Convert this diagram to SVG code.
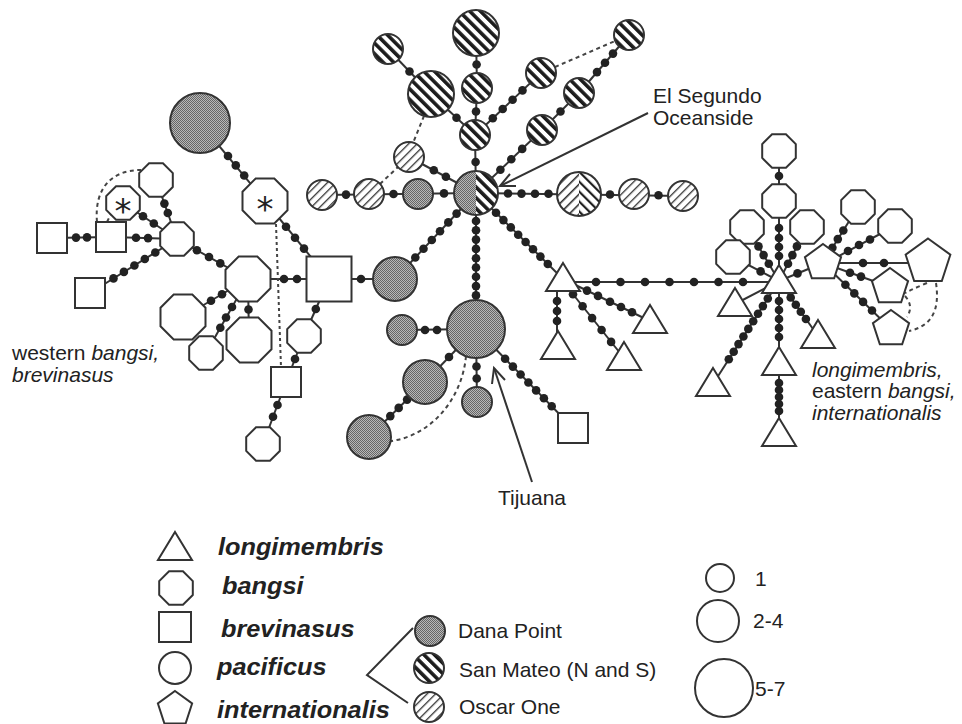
<svg xmlns="http://www.w3.org/2000/svg" width="962" height="724" viewBox="0 0 962 724">
<style>
.n{fill:#fff;stroke:#333;stroke-width:2}
.dn{fill:url(#pDana);stroke:#333;stroke-width:2}
.sm{fill:url(#pSM);stroke:#333;stroke-width:2}
.os{fill:url(#pOsc);stroke:#333;stroke-width:2}
.ol{fill:none;stroke:#333;stroke-width:2}
.e{stroke:#333;stroke-width:2;fill:none}
.ds{stroke:#444;stroke-width:2;fill:none;stroke-dasharray:4 3.5}
.d{fill:#222}
.t{font-family:"Liberation Sans",Arial,Helvetica,sans-serif;font-size:21px;fill:#222}
.ti{font-style:italic}
.tb{font-family:"Liberation Sans",Arial,Helvetica,sans-serif;font-size:23px;font-weight:bold;font-style:italic;fill:#222}
.ast{font-family:"DejaVu Sans",sans-serif;font-size:34px;text-anchor:middle;fill:#222}
</style>
<defs>
<pattern id="pDana" width="2" height="2" patternUnits="userSpaceOnUse"><rect width="2" height="2" fill="#b8b8b8"/><rect width="1" height="1" fill="#666"/><rect x="1" y="1" width="1" height="1" fill="#666"/></pattern>
<pattern id="pSM" width="7.5" height="7.5" patternUnits="userSpaceOnUse" patternTransform="rotate(-45)"><rect width="7.5" height="7.5" fill="#fff"/><rect width="3.6" height="7.5" fill="#1c1c1c"/></pattern>
<pattern id="pOsc" width="6" height="6" patternUnits="userSpaceOnUse" patternTransform="rotate(45)"><rect width="6" height="6" fill="#fff"/><rect width="1.3" height="6" fill="#333"/></pattern>
<pattern id="pChL" width="7" height="7" patternUnits="userSpaceOnUse" patternTransform="rotate(45)"><rect width="7" height="7" fill="#fff"/><rect width="1.6" height="7" fill="#333"/></pattern>
<pattern id="pChR" width="7" height="7" patternUnits="userSpaceOnUse" patternTransform="rotate(-45)"><rect width="7" height="7" fill="#fff"/><rect width="2.2" height="7" fill="#222"/></pattern>
<clipPath id="hubL"><rect x="450" y="165" width="26" height="56"/></clipPath>
<clipPath id="hubR"><rect x="476" y="165" width="28" height="56"/></clipPath>
<clipPath id="chL"><rect x="553" y="168" width="26" height="52"/></clipPath>
<clipPath id="chR"><rect x="579" y="168" width="26" height="52"/></clipPath>
<polygon id="oct17" points="16.8,6.96 6.96,16.8 -6.96,16.8 -16.8,6.96 -16.8,-6.96 -6.96,-16.8 6.96,-16.8 16.8,-6.96"/>
<polygon id="oct22" points="22.5,9.32 9.32,22.5 -9.32,22.5 -22.5,9.32 -22.5,-9.32 -9.32,-22.5 9.32,-22.5 22.5,-9.32"/>
<polygon id="pent18" points="0,-18 17.12,-5.56 10.58,14.56 -10.58,14.56 -17.12,-5.56"/>
<polygon id="pent19" points="0,-19 18.07,-5.87 11.17,15.37 -11.17,15.37 -18.07,-5.87"/>
<polygon id="pent24" points="0,-23.5 22.35,-7.26 13.81,19.01 -13.81,19.01 -22.35,-7.26"/>
<polygon id="tri" points="0,-16 17,12 -17,12"/>
</defs>
<rect width="962" height="724" fill="#fff"/>

<g id="connectors">
<g class="e">
<line x1="52" y1="238" x2="111" y2="237"/>
<line x1="111" y1="237" x2="177" y2="239"/>
<line x1="90" y1="293" x2="177" y2="239"/>
<line x1="123" y1="203" x2="177" y2="239"/>
<line x1="156" y1="180" x2="177" y2="239"/>
<line x1="177" y1="239" x2="248" y2="279"/>
<line x1="248" y1="279" x2="183" y2="317"/>
<line x1="248" y1="279" x2="206" y2="353"/>
<line x1="248" y1="279" x2="249" y2="340"/>
<line x1="248" y1="279" x2="329" y2="279"/>
<line x1="200" y1="123" x2="265" y2="201"/>
<line x1="265" y1="201" x2="329" y2="279"/>
<line x1="329" y1="279" x2="395" y2="279"/>
<line x1="329" y1="279" x2="304" y2="336"/>
<line x1="304" y1="336" x2="286" y2="382"/>
<line x1="286" y1="382" x2="263" y2="444"/>
<line x1="476" y1="193" x2="395" y2="279"/>
<line x1="476" y1="193" x2="563" y2="279"/>
<line x1="476" y1="193" x2="476" y2="329"/>
<line x1="476" y1="329" x2="402" y2="330"/>
<line x1="476" y1="329" x2="425" y2="382"/>
<line x1="425" y1="382" x2="369" y2="437"/>
<line x1="476" y1="329" x2="477" y2="402"/>
<line x1="476" y1="329" x2="573" y2="428"/>
<line x1="476" y1="193" x2="475" y2="135"/>
<line x1="475" y1="135" x2="477" y2="88"/>
<line x1="477" y1="88" x2="476" y2="33"/>
<line x1="475" y1="135" x2="431" y2="94"/>
<line x1="431" y1="94" x2="388" y2="49"/>
<line x1="409" y1="157" x2="476" y2="193"/>
<line x1="322" y1="195" x2="476" y2="193"/>
<line x1="476" y1="193" x2="683" y2="196"/>
<line x1="475" y1="135" x2="541" y2="73"/>
<line x1="476" y1="193" x2="542" y2="130"/>
<line x1="542" y1="130" x2="579" y2="93"/>
<line x1="579" y1="93" x2="629" y2="35"/>
<line x1="563" y1="282" x2="779" y2="282"/>
<line x1="557" y1="291" x2="557" y2="335"/>
<line x1="563" y1="279" x2="650" y2="321"/>
<line x1="568" y1="288" x2="624" y2="358"/>
<line x1="779" y1="281" x2="735" y2="304"/>
<line x1="779" y1="281" x2="713" y2="384"/>
<line x1="779" y1="281" x2="818" y2="336"/>
<line x1="779" y1="281" x2="779" y2="434"/>
<line x1="779" y1="281" x2="779" y2="151"/>
<line x1="747" y1="227" x2="779" y2="281"/>
<line x1="807" y1="227" x2="779" y2="281"/>
<line x1="733" y1="257" x2="779" y2="281"/>
<line x1="779" y1="281" x2="823" y2="263"/>
<line x1="826" y1="258" x2="858" y2="207"/>
<line x1="837" y1="257" x2="895" y2="226"/>
<line x1="823" y1="263" x2="928" y2="263"/>
<line x1="823" y1="263" x2="890" y2="287"/>
<line x1="823" y1="263" x2="891" y2="329"/>
</g>
<g class="ds">
<path d="M276,224 L281,367" stroke-dasharray="3 3"/>
<path d="M97,222 C94,188 112,170 141,170"/>
<path d="M107,222 L111,214"/>
<path d="M424,116 L413,143"/>
<path d="M380,184 L398,167"/>
<path d="M555,67 L615,41"/>
<path d="M466,356 C462,400 430,436 391,441"/>
<path d="M927,283 Q915,288 905,293"/>
<path d="M936,283 C940,310 932,326 909,331"/>
<path d="M905,296 Q914,306 907,317"/>
</g>
<g class="d">
<circle cx="76" cy="237.6" r="4.3"/><circle cx="87" cy="237.4" r="4.3"/>
<circle cx="136" cy="237.8" r="4.3"/><circle cx="148" cy="238.1" r="4.3"/>
<circle cx="113.5" cy="278.4" r="4.3"/><circle cx="123.9" cy="271.9" r="4.3"/><circle cx="134.4" cy="265.5" r="4.3"/><circle cx="144.8" cy="259" r="4.3"/><circle cx="155.3" cy="252.5" r="4.3"/>
<circle cx="143" cy="216.3" r="4.3"/><circle cx="153.8" cy="223.5" r="4.3"/>
<circle cx="164.4" cy="203.6" r="4.3"/><circle cx="167.8" cy="213" r="4.3"/>
<circle cx="196.9" cy="250.2" r="4.3"/><circle cx="209" cy="257" r="4.3"/><circle cx="220.3" cy="263.4" r="4.3"/>
<circle cx="222" cy="294.2" r="4.3"/><circle cx="211" cy="300.7" r="4.3"/>
<circle cx="232" cy="307" r="4.3"/><circle cx="226" cy="317.5" r="4.3"/><circle cx="220.3" cy="327.8" r="4.3"/>
<circle cx="248.5" cy="309.5" r="4.3"/>
<circle cx="284" cy="279" r="4.3"/><circle cx="297" cy="279" r="4.3"/>
<circle cx="228" cy="156" r="4.3"/><circle cx="235.8" cy="165.4" r="4.3"/><circle cx="244.2" cy="175.5" r="4.3"/>
<circle cx="286" cy="226.7" r="4.3"/><circle cx="295" cy="237.7" r="4.3"/><circle cx="304" cy="248.6" r="4.3"/>
<circle cx="361" cy="279" r="4.3"/>
<circle cx="315.8" cy="309" r="4.3"/>
<circle cx="295" cy="359" r="4.3"/>
<circle cx="277.5" cy="405" r="4.3"/><circle cx="273" cy="416.7" r="4.3"/>
<circle cx="456.6" cy="213.6" r="4.3"/><circle cx="448.3" cy="222.4" r="4.3"/><circle cx="440" cy="231.2" r="4.3"/><circle cx="431.8" cy="240" r="4.3"/><circle cx="423.5" cy="248.7" r="4.3"/><circle cx="415.3" cy="257.5" r="4.3"/>
<circle cx="496" cy="212.8" r="4.3"/><circle cx="503.4" cy="220.1" r="4.3"/><circle cx="510.8" cy="227.4" r="4.3"/><circle cx="518.2" cy="234.7" r="4.3"/><circle cx="525.6" cy="242" r="4.3"/><circle cx="533" cy="249.3" r="4.3"/><circle cx="540.4" cy="256.6" r="4.3"/><circle cx="547.8" cy="264" r="4.3"/>
<circle cx="476" cy="221" r="4.3"/><circle cx="476" cy="230.3" r="4.3"/><circle cx="476" cy="239.6" r="4.3"/><circle cx="476" cy="248.9" r="4.3"/><circle cx="476" cy="258.2" r="4.3"/><circle cx="476" cy="267.5" r="4.3"/><circle cx="476" cy="276.8" r="4.3"/><circle cx="476" cy="286.1" r="4.3"/><circle cx="476" cy="295.4" r="4.3"/>
<circle cx="425" cy="330" r="4.3"/><circle cx="437" cy="330" r="4.3"/>
<circle cx="449" cy="357" r="4.3"/>
<circle cx="407.1" cy="399.6" r="4.3"/><circle cx="398.7" cy="407.9" r="4.3"/><circle cx="390.3" cy="416.1" r="4.3"/>
<circle cx="476.5" cy="366.5" r="4.3"/><circle cx="476.7" cy="378.5" r="4.3"/>
<circle cx="505.1" cy="358.7" r="4.3"/><circle cx="512.9" cy="366.6" r="4.3"/><circle cx="520.6" cy="374.5" r="4.3"/><circle cx="528.4" cy="382.5" r="4.3"/><circle cx="536.1" cy="390.4" r="4.3"/><circle cx="543.9" cy="398.3" r="4.3"/><circle cx="551.7" cy="406.2" r="4.3"/>
<circle cx="475.6" cy="162" r="4.3"/>
<circle cx="476" cy="111.5" r="4.3"/>
<circle cx="476.6" cy="64.5" r="4.3"/>
<circle cx="456.5" cy="117.8" r="4.3"/>
<circle cx="409.5" cy="71.5" r="4.3"/>
<circle cx="433.8" cy="170.3" r="4.3"/><circle cx="445.9" cy="176.8" r="4.3"/>
<circle cx="346" cy="194.6" r="4.3"/><circle cx="393.5" cy="194" r="4.3"/><circle cx="444" cy="193.4" r="4.3"/>
<circle cx="508" cy="193.5" r="4.3"/><circle cx="521.5" cy="193.6" r="4.3"/><circle cx="535" cy="193.7" r="4.3"/><circle cx="548.5" cy="193.8" r="4.3"/><circle cx="610" cy="194.5" r="4.3"/><circle cx="658.5" cy="195.3" r="4.3"/>
<circle cx="492.8" cy="118.3" r="4.3"/><circle cx="502.7" cy="109" r="4.3"/><circle cx="512.6" cy="99.7" r="4.3"/><circle cx="522.5" cy="90.4" r="4.3"/>
<circle cx="500.4" cy="169.7" r="4.3"/><circle cx="511.3" cy="159.3" r="4.3"/><circle cx="522.2" cy="148.9" r="4.3"/>
<circle cx="560.5" cy="111.5" r="4.3"/>
<circle cx="597" cy="72.1" r="4.3"/><circle cx="605" cy="62.8" r="4.3"/><circle cx="613" cy="53.6" r="4.3"/>
<circle cx="596" cy="282" r="4.3"/><circle cx="620.5" cy="282" r="4.3"/><circle cx="645" cy="282" r="4.3"/><circle cx="669.5" cy="282" r="4.3"/><circle cx="694" cy="282" r="4.3"/><circle cx="718.5" cy="282" r="4.3"/><circle cx="743" cy="282" r="4.3"/>
<circle cx="557" cy="301" r="4.3"/><circle cx="557" cy="311" r="4.3"/><circle cx="557" cy="321" r="4.3"/>
<circle cx="587" cy="290.6" r="4.3"/><circle cx="598" cy="295.9" r="4.3"/><circle cx="610" cy="301.7" r="4.3"/><circle cx="621" cy="307" r="4.3"/><circle cx="632" cy="312.3" r="4.3"/>
<circle cx="573" cy="294.3" r="4.3"/><circle cx="582.6" cy="306.2" r="4.3"/><circle cx="592.1" cy="318.1" r="4.3"/><circle cx="601.6" cy="330" r="4.3"/><circle cx="611.1" cy="341.9" r="4.3"/>
<circle cx="767.8" cy="298.5" r="4.3"/><circle cx="762.9" cy="306.1" r="4.3"/><circle cx="758" cy="313.8" r="4.3"/><circle cx="753.2" cy="321.3" r="4.3"/><circle cx="748.3" cy="328.9" r="4.3"/><circle cx="743.4" cy="336.5" r="4.3"/><circle cx="738.5" cy="344.1" r="4.3"/><circle cx="733.7" cy="351.7" r="4.3"/><circle cx="728.8" cy="359.3" r="4.3"/>
<circle cx="790.7" cy="297.5" r="4.3"/><circle cx="795.8" cy="304.7" r="4.3"/><circle cx="800.8" cy="311.8" r="4.3"/><circle cx="805.9" cy="319" r="4.3"/>
<circle cx="779" cy="301" r="4.3"/><circle cx="779" cy="310" r="4.3"/><circle cx="779" cy="319" r="4.3"/><circle cx="779" cy="328" r="4.3"/><circle cx="779" cy="337" r="4.3"/>
<circle cx="779" cy="383" r="4.3"/><circle cx="779" cy="390" r="4.3"/><circle cx="779" cy="397" r="4.3"/><circle cx="779" cy="404" r="4.3"/><circle cx="779" cy="411" r="4.3"/>
<circle cx="779" cy="228" r="4.3"/><circle cx="779" cy="238" r="4.3"/><circle cx="779" cy="247" r="4.3"/><circle cx="779" cy="256" r="4.3"/><circle cx="779" cy="176" r="4.3"/>
<circle cx="758.5" cy="246.4" r="4.3"/><circle cx="763.6" cy="255.1" r="4.3"/><circle cx="768.8" cy="263.7" r="4.3"/>
<circle cx="796.9" cy="246.4" r="4.3"/><circle cx="792.4" cy="255.1" r="4.3"/><circle cx="788" cy="263.7" r="4.3"/>
<circle cx="760.6" cy="271.4" r="4.3"/>
<circle cx="797.5" cy="273.4" r="4.3"/>
<circle cx="832.4" cy="247.8" r="4.3"/><circle cx="837.8" cy="239.1" r="4.3"/><circle cx="843.3" cy="230.5" r="4.3"/>
<circle cx="848" cy="251" r="4.3"/><circle cx="859" cy="245" r="4.3"/><circle cx="870" cy="239.5" r="4.3"/>
<circle cx="863" cy="263" r="4.3"/><circle cx="884" cy="263" r="4.3"/>
<circle cx="850" cy="272.7" r="4.3"/><circle cx="861" cy="276.6" r="4.3"/>
<circle cx="845.4" cy="284.8" r="4.3"/><circle cx="854.3" cy="293.4" r="4.3"/><circle cx="863.1" cy="301.9" r="4.3"/><circle cx="872" cy="310.5" r="4.3"/>
</g>
</g>

<g id="nodes">
<g id="n-sq1"><rect class="n" x="37" y="223" width="30" height="30"/></g>
<g id="n-sq2"><rect class="n" x="96" y="222" width="30" height="30"/></g>
<g id="n-sq3"><rect class="n" x="75" y="278" width="30" height="30"/></g>
<g id="n-oct-star-s"><use href="#oct17" class="n" x="123" y="203"/><text class="ast" x="123" y="223">*</text></g>
<g id="n-oct-a"><use href="#oct17" class="n" x="156" y="180"/></g>
<g id="n-oct-hubL"><use href="#oct17" class="n" x="177" y="239"/></g>
<g id="n-dana-tl"><circle class="dn" cx="200" cy="123" r="30"/></g>
<g id="n-oct-star-b"><use href="#oct22" class="n" x="265" y="201"/><text class="ast" x="265" y="221">*</text></g>
<g id="n-oct-big"><use href="#oct22" class="n" x="248" y="279"/></g>
<g id="n-oct-b"><use href="#oct22" class="n" x="183" y="317"/></g>
<g id="n-oct-c"><use href="#oct17" class="n" x="206" y="353"/></g>
<g id="n-oct-d"><use href="#oct22" class="n" x="249" y="340"/></g>
<g id="n-sq-big"><rect class="n" x="306.5" y="256.5" width="45" height="45"/></g>
<g id="n-oct-e"><use href="#oct17" class="n" x="304" y="336"/></g>
<g id="n-sq-s"><rect class="n" x="271" y="367" width="30" height="30"/></g>
<g id="n-oct-f"><use href="#oct17" class="n" x="263" y="444"/></g>

<g id="n-hub"><circle cx="476" cy="193" r="22" fill="url(#pDana)" clip-path="url(#hubL)"/><circle cx="476" cy="193" r="22" fill="url(#pSM)" clip-path="url(#hubR)"/><circle class="ol" cx="476" cy="193" r="22"/></g>
<g id="n-sm-33"><circle class="sm" cx="476" cy="33" r="23"/></g>
<g id="n-sm-88"><circle class="sm" cx="477" cy="88" r="15"/></g>
<g id="n-sm-135"><circle class="sm" cx="475" cy="135" r="15"/></g>
<g id="n-sm-49"><circle class="sm" cx="388" cy="49" r="15"/></g>
<g id="n-sm-94"><circle class="sm" cx="431" cy="94" r="23"/></g>
<g id="n-os-157"><circle class="os" cx="409" cy="157" r="15"/></g>
<g id="n-os-322"><circle class="os" cx="322" cy="195" r="15"/></g>
<g id="n-os-369"><circle class="os" cx="369" cy="194" r="15"/></g>
<g id="n-dana-418"><circle class="dn" cx="418" cy="194" r="15"/></g>
<g id="n-chev"><circle cx="579" cy="194" r="22" fill="url(#pChL)" clip-path="url(#chL)"/><circle cx="579" cy="194" r="22" fill="url(#pChR)" clip-path="url(#chR)"/><circle class="ol" cx="579" cy="194" r="22"/></g>
<g id="n-os-634"><circle class="os" cx="634" cy="194" r="15"/></g>
<g id="n-os-683"><circle class="os" cx="683" cy="196" r="15"/></g>
<g id="n-sm-541"><circle class="sm" cx="541" cy="73" r="15"/></g>
<g id="n-sm-542"><circle class="sm" cx="542" cy="130" r="15"/></g>
<g id="n-sm-579"><circle class="sm" cx="579" cy="93" r="15"/></g>
<g id="n-sm-629"><circle class="sm" cx="629" cy="35" r="15"/></g>
<g id="n-dana-395"><circle class="dn" cx="395" cy="279" r="22"/></g>
<g id="n-dana-tij"><circle class="dn" cx="476" cy="329" r="29"/></g>
<g id="n-dana-402"><circle class="dn" cx="402" cy="330" r="15"/></g>
<g id="n-dana-425"><circle class="dn" cx="425" cy="382" r="22"/></g>
<g id="n-dana-369"><circle class="dn" cx="369" cy="437" r="22"/></g>
<g id="n-dana-477"><circle class="dn" cx="477" cy="402" r="15"/></g>
<g id="n-sq-lr"><rect class="n" x="558" y="413" width="30" height="30"/></g>

<g id="n-tri-1"><use href="#tri" class="n" x="563" y="279"/></g>
<g id="n-tri-a"><use href="#tri" class="n" x="558" y="347"/></g>
<g id="n-tri-b"><use href="#tri" class="n" x="650" y="321"/></g>
<g id="n-tri-c"><use href="#tri" class="n" x="624" y="358"/></g>
<g id="n-tri-hub"><use href="#tri" class="n" x="779" y="281"/></g>
<g id="n-tri-d"><use href="#tri" class="n" x="735" y="304"/></g>
<g id="n-tri-e"><use href="#tri" class="n" x="713" y="384"/></g>
<g id="n-tri-f"><use href="#tri" class="n" x="818" y="336"/></g>
<g id="n-tri-g"><use href="#tri" class="n" x="779" y="363"/></g>
<g id="n-tri-h"><use href="#tri" class="n" x="779" y="434"/></g>
<g id="n-oct-r1"><use href="#oct17" class="n" x="779" y="151"/></g>
<g id="n-oct-r2"><use href="#oct17" class="n" x="779" y="201"/></g>
<g id="n-oct-r3"><use href="#oct17" class="n" x="747" y="227"/></g>
<g id="n-oct-r4"><use href="#oct17" class="n" x="807" y="227"/></g>
<g id="n-oct-r5"><use href="#oct17" class="n" x="733" y="257"/></g>
<g id="n-oct-r6"><use href="#oct17" class="n" x="858" y="207"/></g>
<g id="n-oct-r7"><use href="#oct17" class="n" x="895" y="226"/></g>
<g id="n-pent-hub"><use href="#pent19" class="n" x="823" y="263"/></g>
<g id="n-pent-big"><use href="#pent24" class="n" x="928" y="262"/></g>
<g id="n-pent-mid"><use href="#pent19" class="n" x="890" y="287"/></g>
<g id="n-pent-low"><use href="#pent19" class="n" x="891" y="329"/></g>
</g>

<g id="annotations">
<line class="e" x1="648" y1="113" x2="500" y2="186"/>
<polyline class="e" points="516,186 500,186 510,174"/>
<text class="t" x="653" y="103">El Segundo</text>
<text class="t" x="653" y="125">Oceanside</text>
<line class="e" x1="532" y1="482" x2="494" y2="368"/>
<polyline class="e" points="492,384 494,368 505,380"/>
<text class="t" x="532" y="505" text-anchor="middle">Tijuana</text>
<text class="t" x="12" y="360">western <tspan class="ti">bangsi,</tspan></text>
<text class="t ti" x="12" y="382">brevinasus</text>
<text class="t ti" x="812" y="377">longimembris,</text>
<text class="t" x="812" y="398">eastern <tspan class="ti">bangsi,</tspan></text>
<text class="t ti" x="812" y="420">internationalis</text>
</g>

<g id="legend">
<use href="#tri" class="n" x="175" y="548"/>
<use href="#oct17" class="n" x="176" y="588"/>
<rect class="n" x="159" y="612" width="32" height="30"/>
<circle class="n" cx="175" cy="668" r="16"/>
<use href="#pent18" class="n" x="175" y="709"/>
<text class="tb" transform="translate(218,555) scale(1.1,1)">longimembris</text>
<text class="tb" transform="translate(222,594) scale(1.1,1)">bangsi</text>
<text class="tb" transform="translate(221,637) scale(1.1,1)">brevinasus</text>
<text class="tb" transform="translate(217,675) scale(1.1,1)">pacificus</text>
<text class="tb" transform="translate(217,718) scale(1.1,1)">internationalis</text>
<polyline class="e" points="413,628 367,675 408,703" stroke-width="1.6"/>
<circle class="dn" cx="430" cy="631" r="15"/>
<circle class="sm" cx="429" cy="668" r="15"/>
<circle class="os" cx="429" cy="707" r="15"/>
<text class="t" x="458" y="638">Dana Point</text>
<text class="t" x="459" y="677">San Mateo (N and S)</text>
<text class="t" x="459" y="714">Oscar One</text>
<circle class="n" cx="720" cy="578" r="14"/>
<circle class="n" cx="718" cy="621" r="21"/>
<circle class="n" cx="724" cy="688" r="29"/>
<text class="t" x="755" y="586">1</text>
<text class="t" x="753" y="628">2-4</text>
<text class="t" x="755" y="696">5-7</text>
</g>
</svg>
